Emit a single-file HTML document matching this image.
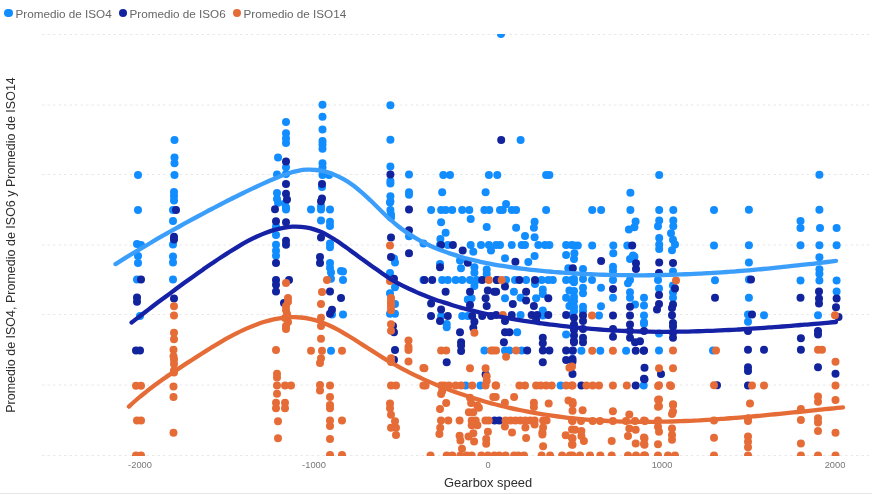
<!DOCTYPE html>
<html><head><meta charset="utf-8"><style>
html,body{margin:0;padding:0;background:#fff;width:872px;height:495px;overflow:hidden}
.wrap{position:relative;width:872px;height:495px}
.leg{position:absolute;top:5.8px;font:11.7px "Liberation Sans",sans-serif;color:#666;white-space:nowrap;line-height:16px}
.ld{position:absolute;width:8.5px;height:8.5px;border-radius:50%;top:8.7px}
.tick{position:absolute;top:459px;font:9.3px "Liberation Sans",sans-serif;color:#777;width:60px;text-align:center;line-height:12px}
.xt{position:absolute;left:444px;top:474.6px;font:12.9px "Liberation Sans",sans-serif;color:#2e2e2e;white-space:nowrap;line-height:16px}
.yt{position:absolute;left:5px;top:245px;font:12.5px "Liberation Sans",sans-serif;color:#2e2e2e;white-space:nowrap;line-height:12px;transform-origin:0 0;transform:rotate(-90deg) translate(-50%,0)}
.bot{position:absolute;left:0;top:493px;width:872px;height:1px;background:#e6e6e6}
svg{position:absolute;left:0;top:0}
</style></head><body><div class="wrap">
<svg width="872" height="495" viewBox="0 0 872 495"><defs><clipPath id="clip"><rect x="30" y="34" width="842" height="422"/></clipPath></defs>
<line x1="42" y1="34.5" x2="872" y2="34.5" stroke="#e8e8e8" stroke-width="1" stroke-dasharray="2.5 3"/>
<line x1="42" y1="105" x2="872" y2="105" stroke="#e8e8e8" stroke-width="1" stroke-dasharray="2.5 3"/>
<line x1="42" y1="174.5" x2="872" y2="174.5" stroke="#e8e8e8" stroke-width="1" stroke-dasharray="2.5 3"/>
<line x1="42" y1="245" x2="872" y2="245" stroke="#e8e8e8" stroke-width="1" stroke-dasharray="2.5 3"/>
<line x1="42" y1="314.5" x2="872" y2="314.5" stroke="#e8e8e8" stroke-width="1" stroke-dasharray="2.5 3"/>
<line x1="42" y1="385" x2="872" y2="385" stroke="#e8e8e8" stroke-width="1" stroke-dasharray="2.5 3"/>
<line x1="42" y1="455.5" x2="872" y2="455.5" stroke="#e8e8e8" stroke-width="1" stroke-dasharray="2.5 3"/>
<g clip-path="url(#clip)">
<circle cx="501.0" cy="34.0" r="4.0" fill="#118DFF"/>
<circle cx="138.0" cy="175.0" r="4.0" fill="#118DFF"/>
<circle cx="138.0" cy="210.0" r="4.0" fill="#118DFF"/>
<circle cx="137.0" cy="244.0" r="4.0" fill="#118DFF"/>
<circle cx="141.0" cy="245.0" r="4.0" fill="#118DFF"/>
<circle cx="138.0" cy="256.0" r="4.0" fill="#118DFF"/>
<circle cx="138.0" cy="263.0" r="4.0" fill="#118DFF"/>
<circle cx="137.0" cy="279.5" r="4.0" fill="#118DFF"/>
<circle cx="140.0" cy="316.0" r="4.0" fill="#118DFF"/>
<circle cx="174.5" cy="140.0" r="4.0" fill="#118DFF"/>
<circle cx="174.5" cy="157.5" r="4.0" fill="#118DFF"/>
<circle cx="174.5" cy="163.3" r="4.0" fill="#118DFF"/>
<circle cx="174.5" cy="175.0" r="4.0" fill="#118DFF"/>
<circle cx="174.0" cy="192.0" r="4.0" fill="#118DFF"/>
<circle cx="174.0" cy="196.0" r="4.0" fill="#118DFF"/>
<circle cx="174.0" cy="200.5" r="4.0" fill="#118DFF"/>
<circle cx="173.0" cy="210.0" r="4.0" fill="#118DFF"/>
<circle cx="173.0" cy="221.0" r="4.0" fill="#118DFF"/>
<circle cx="173.0" cy="244.6" r="4.0" fill="#118DFF"/>
<circle cx="173.0" cy="256.4" r="4.0" fill="#118DFF"/>
<circle cx="173.0" cy="262.5" r="4.0" fill="#118DFF"/>
<circle cx="173.0" cy="279.5" r="4.0" fill="#118DFF"/>
<circle cx="286.0" cy="122.0" r="4.0" fill="#118DFF"/>
<circle cx="286.0" cy="133.3" r="4.0" fill="#118DFF"/>
<circle cx="286.0" cy="138.6" r="4.0" fill="#118DFF"/>
<circle cx="286.0" cy="143.0" r="4.0" fill="#118DFF"/>
<circle cx="278.0" cy="157.5" r="4.0" fill="#118DFF"/>
<circle cx="286.0" cy="167.2" r="4.0" fill="#118DFF"/>
<circle cx="277.0" cy="174.4" r="4.0" fill="#118DFF"/>
<circle cx="286.0" cy="174.0" r="4.0" fill="#118DFF"/>
<circle cx="277.0" cy="193.0" r="4.0" fill="#118DFF"/>
<circle cx="277.0" cy="199.0" r="4.0" fill="#118DFF"/>
<circle cx="278.0" cy="202.7" r="4.0" fill="#118DFF"/>
<circle cx="286.0" cy="207.6" r="4.0" fill="#118DFF"/>
<circle cx="286.0" cy="209.5" r="4.0" fill="#118DFF"/>
<circle cx="285.0" cy="203.6" r="4.0" fill="#118DFF"/>
<circle cx="276.0" cy="226.6" r="4.0" fill="#118DFF"/>
<circle cx="276.0" cy="235.1" r="4.0" fill="#118DFF"/>
<circle cx="276.0" cy="244.8" r="4.0" fill="#118DFF"/>
<circle cx="276.0" cy="250.8" r="4.0" fill="#118DFF"/>
<circle cx="276.0" cy="255.7" r="4.0" fill="#118DFF"/>
<circle cx="322.5" cy="104.7" r="4.0" fill="#118DFF"/>
<circle cx="322.5" cy="116.8" r="4.0" fill="#118DFF"/>
<circle cx="322.5" cy="129.6" r="4.0" fill="#118DFF"/>
<circle cx="322.5" cy="141.0" r="4.0" fill="#118DFF"/>
<circle cx="322.5" cy="144.6" r="4.0" fill="#118DFF"/>
<circle cx="322.5" cy="148.8" r="4.0" fill="#118DFF"/>
<circle cx="322.5" cy="163.3" r="4.0" fill="#118DFF"/>
<circle cx="322.5" cy="167.6" r="4.0" fill="#118DFF"/>
<circle cx="322.5" cy="175.0" r="4.0" fill="#118DFF"/>
<circle cx="329.0" cy="175.0" r="4.0" fill="#118DFF"/>
<circle cx="322.0" cy="187.0" r="4.0" fill="#118DFF"/>
<circle cx="311.0" cy="209.5" r="4.0" fill="#118DFF"/>
<circle cx="321.0" cy="206.2" r="4.0" fill="#118DFF"/>
<circle cx="321.0" cy="209.5" r="4.0" fill="#118DFF"/>
<circle cx="330.0" cy="209.5" r="4.0" fill="#118DFF"/>
<circle cx="321.0" cy="220.6" r="4.0" fill="#118DFF"/>
<circle cx="330.0" cy="221.8" r="4.0" fill="#118DFF"/>
<circle cx="330.0" cy="226.0" r="4.0" fill="#118DFF"/>
<circle cx="330.0" cy="243.6" r="4.0" fill="#118DFF"/>
<circle cx="330.0" cy="247.2" r="4.0" fill="#118DFF"/>
<circle cx="330.0" cy="263.0" r="4.0" fill="#118DFF"/>
<circle cx="330.0" cy="267.8" r="4.0" fill="#118DFF"/>
<circle cx="331.0" cy="272.6" r="4.0" fill="#118DFF"/>
<circle cx="331.0" cy="278.7" r="4.0" fill="#118DFF"/>
<circle cx="341.0" cy="271.0" r="4.0" fill="#118DFF"/>
<circle cx="332.0" cy="314.5" r="4.0" fill="#118DFF"/>
<circle cx="343.0" cy="314.5" r="4.0" fill="#118DFF"/>
<circle cx="331.0" cy="350.7" r="4.0" fill="#118DFF"/>
<circle cx="390.4" cy="105.2" r="4.0" fill="#118DFF"/>
<circle cx="390.4" cy="139.8" r="4.0" fill="#118DFF"/>
<circle cx="390.4" cy="166.4" r="4.0" fill="#118DFF"/>
<circle cx="390.4" cy="181.0" r="4.0" fill="#118DFF"/>
<circle cx="390.4" cy="183.4" r="4.0" fill="#118DFF"/>
<circle cx="390.4" cy="196.2" r="4.0" fill="#118DFF"/>
<circle cx="390.4" cy="201.5" r="4.0" fill="#118DFF"/>
<circle cx="390.4" cy="210.0" r="4.0" fill="#118DFF"/>
<circle cx="409.0" cy="174.4" r="4.0" fill="#118DFF"/>
<circle cx="409.0" cy="192.3" r="4.0" fill="#118DFF"/>
<circle cx="409.0" cy="194.8" r="4.0" fill="#118DFF"/>
<circle cx="390.0" cy="202.4" r="4.0" fill="#118DFF"/>
<circle cx="391.0" cy="214.5" r="4.0" fill="#118DFF"/>
<circle cx="391.0" cy="217.4" r="4.0" fill="#118DFF"/>
<circle cx="394.0" cy="258.6" r="4.0" fill="#118DFF"/>
<circle cx="395.0" cy="262.5" r="4.0" fill="#118DFF"/>
<circle cx="390.0" cy="273.1" r="4.0" fill="#118DFF"/>
<circle cx="395.0" cy="287.2" r="4.0" fill="#118DFF"/>
<circle cx="390.0" cy="293.2" r="4.0" fill="#118DFF"/>
<circle cx="395.0" cy="304.1" r="4.0" fill="#118DFF"/>
<circle cx="395.0" cy="313.8" r="4.0" fill="#118DFF"/>
<circle cx="390.0" cy="313.8" r="4.0" fill="#118DFF"/>
<circle cx="409.0" cy="236.3" r="4.0" fill="#118DFF"/>
<circle cx="423.5" cy="243.6" r="4.0" fill="#118DFF"/>
<circle cx="423.5" cy="280.0" r="4.0" fill="#118DFF"/>
<circle cx="343.0" cy="271.4" r="4.0" fill="#118DFF"/>
<circle cx="343.0" cy="280.0" r="4.0" fill="#118DFF"/>
<circle cx="443.3" cy="175.1" r="4.0" fill="#118DFF"/>
<circle cx="450.0" cy="175.1" r="4.0" fill="#118DFF"/>
<circle cx="488.9" cy="175.1" r="4.0" fill="#118DFF"/>
<circle cx="497.3" cy="175.1" r="4.0" fill="#118DFF"/>
<circle cx="442.2" cy="192.2" r="4.0" fill="#118DFF"/>
<circle cx="485.6" cy="192.2" r="4.0" fill="#118DFF"/>
<circle cx="431.1" cy="210.0" r="4.0" fill="#118DFF"/>
<circle cx="441.1" cy="210.0" r="4.0" fill="#118DFF"/>
<circle cx="445.6" cy="210.0" r="4.0" fill="#118DFF"/>
<circle cx="452.2" cy="210.0" r="4.0" fill="#118DFF"/>
<circle cx="462.2" cy="210.0" r="4.0" fill="#118DFF"/>
<circle cx="469.3" cy="210.0" r="4.0" fill="#118DFF"/>
<circle cx="484.4" cy="210.0" r="4.0" fill="#118DFF"/>
<circle cx="489.3" cy="210.0" r="4.0" fill="#118DFF"/>
<circle cx="500.0" cy="210.0" r="4.0" fill="#118DFF"/>
<circle cx="441.1" cy="222.2" r="4.0" fill="#118DFF"/>
<circle cx="470.7" cy="218.9" r="4.0" fill="#118DFF"/>
<circle cx="486.7" cy="227.1" r="4.0" fill="#118DFF"/>
<circle cx="445.6" cy="232.8" r="4.0" fill="#118DFF"/>
<circle cx="440.4" cy="239.0" r="4.0" fill="#118DFF"/>
<circle cx="440.0" cy="245.0" r="4.0" fill="#118DFF"/>
<circle cx="447.8" cy="245.0" r="4.0" fill="#118DFF"/>
<circle cx="470.7" cy="245.0" r="4.0" fill="#118DFF"/>
<circle cx="481.0" cy="245.0" r="4.0" fill="#118DFF"/>
<circle cx="488.9" cy="245.0" r="4.0" fill="#118DFF"/>
<circle cx="500.0" cy="245.0" r="4.0" fill="#118DFF"/>
<circle cx="473.3" cy="251.7" r="4.0" fill="#118DFF"/>
<circle cx="491.0" cy="250.6" r="4.0" fill="#118DFF"/>
<circle cx="460.0" cy="260.6" r="4.0" fill="#118DFF"/>
<circle cx="440.0" cy="263.9" r="4.0" fill="#118DFF"/>
<circle cx="461.0" cy="268.3" r="4.0" fill="#118DFF"/>
<circle cx="474.4" cy="267.2" r="4.0" fill="#118DFF"/>
<circle cx="474.4" cy="272.8" r="4.0" fill="#118DFF"/>
<circle cx="486.7" cy="269.4" r="4.0" fill="#118DFF"/>
<circle cx="486.7" cy="273.9" r="4.0" fill="#118DFF"/>
<circle cx="442.2" cy="280.1" r="4.0" fill="#118DFF"/>
<circle cx="447.8" cy="280.1" r="4.0" fill="#118DFF"/>
<circle cx="455.6" cy="280.1" r="4.0" fill="#118DFF"/>
<circle cx="462.2" cy="280.1" r="4.0" fill="#118DFF"/>
<circle cx="470.0" cy="280.1" r="4.0" fill="#118DFF"/>
<circle cx="476.7" cy="280.1" r="4.0" fill="#118DFF"/>
<circle cx="474.4" cy="286.1" r="4.0" fill="#118DFF"/>
<circle cx="471.6" cy="298.3" r="4.0" fill="#118DFF"/>
<circle cx="467.8" cy="299.4" r="4.0" fill="#118DFF"/>
<circle cx="441.1" cy="316.1" r="4.0" fill="#118DFF"/>
<circle cx="462.2" cy="316.1" r="4.0" fill="#118DFF"/>
<circle cx="467.8" cy="316.1" r="4.0" fill="#118DFF"/>
<circle cx="446.7" cy="323.9" r="4.0" fill="#118DFF"/>
<circle cx="446.7" cy="327.3" r="4.0" fill="#118DFF"/>
<circle cx="484.4" cy="350.4" r="4.0" fill="#118DFF"/>
<circle cx="465.6" cy="385.6" r="4.0" fill="#118DFF"/>
<circle cx="480.4" cy="385.6" r="4.0" fill="#118DFF"/>
<circle cx="520.6" cy="140.0" r="4.0" fill="#118DFF"/>
<circle cx="546.1" cy="175.1" r="4.0" fill="#118DFF"/>
<circle cx="549.4" cy="175.1" r="4.0" fill="#118DFF"/>
<circle cx="506.1" cy="204.0" r="4.0" fill="#118DFF"/>
<circle cx="502.8" cy="210.0" r="4.0" fill="#118DFF"/>
<circle cx="511.7" cy="210.0" r="4.0" fill="#118DFF"/>
<circle cx="516.1" cy="210.0" r="4.0" fill="#118DFF"/>
<circle cx="546.1" cy="210.0" r="4.0" fill="#118DFF"/>
<circle cx="534.6" cy="221.8" r="4.0" fill="#118DFF"/>
<circle cx="533.9" cy="227.8" r="4.0" fill="#118DFF"/>
<circle cx="516.1" cy="227.8" r="4.0" fill="#118DFF"/>
<circle cx="525.0" cy="236.1" r="4.0" fill="#118DFF"/>
<circle cx="534.6" cy="237.2" r="4.0" fill="#118DFF"/>
<circle cx="496.1" cy="245.0" r="4.0" fill="#118DFF"/>
<circle cx="511.7" cy="245.0" r="4.0" fill="#118DFF"/>
<circle cx="521.7" cy="245.0" r="4.0" fill="#118DFF"/>
<circle cx="525.0" cy="245.0" r="4.0" fill="#118DFF"/>
<circle cx="538.3" cy="245.0" r="4.0" fill="#118DFF"/>
<circle cx="545.0" cy="245.0" r="4.0" fill="#118DFF"/>
<circle cx="549.4" cy="245.0" r="4.0" fill="#118DFF"/>
<circle cx="566.1" cy="245.0" r="4.0" fill="#118DFF"/>
<circle cx="571.7" cy="245.0" r="4.0" fill="#118DFF"/>
<circle cx="505.0" cy="258.3" r="4.0" fill="#118DFF"/>
<circle cx="528.3" cy="262.1" r="4.0" fill="#118DFF"/>
<circle cx="534.6" cy="256.1" r="4.0" fill="#118DFF"/>
<circle cx="566.1" cy="255.0" r="4.0" fill="#118DFF"/>
<circle cx="568.3" cy="268.3" r="4.0" fill="#118DFF"/>
<circle cx="506.1" cy="279.9" r="4.0" fill="#118DFF"/>
<circle cx="515.0" cy="279.9" r="4.0" fill="#118DFF"/>
<circle cx="526.1" cy="279.9" r="4.0" fill="#118DFF"/>
<circle cx="541.7" cy="279.9" r="4.0" fill="#118DFF"/>
<circle cx="548.3" cy="279.9" r="4.0" fill="#118DFF"/>
<circle cx="552.8" cy="279.9" r="4.0" fill="#118DFF"/>
<circle cx="566.1" cy="279.9" r="4.0" fill="#118DFF"/>
<circle cx="571.7" cy="279.9" r="4.0" fill="#118DFF"/>
<circle cx="535.0" cy="283.9" r="4.0" fill="#118DFF"/>
<circle cx="513.9" cy="291.7" r="4.0" fill="#118DFF"/>
<circle cx="542.8" cy="289.4" r="4.0" fill="#118DFF"/>
<circle cx="542.8" cy="293.9" r="4.0" fill="#118DFF"/>
<circle cx="569.4" cy="290.6" r="4.0" fill="#118DFF"/>
<circle cx="505.0" cy="298.3" r="4.0" fill="#118DFF"/>
<circle cx="520.6" cy="297.7" r="4.0" fill="#118DFF"/>
<circle cx="536.1" cy="298.3" r="4.0" fill="#118DFF"/>
<circle cx="566.1" cy="297.7" r="4.0" fill="#118DFF"/>
<circle cx="571.7" cy="301.7" r="4.0" fill="#118DFF"/>
<circle cx="569.4" cy="306.1" r="4.0" fill="#118DFF"/>
<circle cx="542.8" cy="310.6" r="4.0" fill="#118DFF"/>
<circle cx="520.6" cy="315.0" r="4.0" fill="#118DFF"/>
<circle cx="542.8" cy="315.0" r="4.0" fill="#118DFF"/>
<circle cx="571.7" cy="315.0" r="4.0" fill="#118DFF"/>
<circle cx="542.8" cy="315.6" r="4.0" fill="#118DFF"/>
<circle cx="517.2" cy="332.2" r="4.0" fill="#118DFF"/>
<circle cx="566.1" cy="334.4" r="4.0" fill="#118DFF"/>
<circle cx="505.0" cy="350.4" r="4.0" fill="#118DFF"/>
<circle cx="509.4" cy="350.4" r="4.0" fill="#118DFF"/>
<circle cx="521.7" cy="350.4" r="4.0" fill="#118DFF"/>
<circle cx="560.6" cy="385.6" r="4.0" fill="#118DFF"/>
<circle cx="630.4" cy="192.7" r="4.0" fill="#118DFF"/>
<circle cx="592.2" cy="210.0" r="4.0" fill="#118DFF"/>
<circle cx="601.1" cy="210.0" r="4.0" fill="#118DFF"/>
<circle cx="630.4" cy="210.0" r="4.0" fill="#118DFF"/>
<circle cx="635.6" cy="221.6" r="4.0" fill="#118DFF"/>
<circle cx="634.4" cy="227.3" r="4.0" fill="#118DFF"/>
<circle cx="628.9" cy="229.6" r="4.0" fill="#118DFF"/>
<circle cx="574.4" cy="245.6" r="4.0" fill="#118DFF"/>
<circle cx="577.8" cy="245.6" r="4.0" fill="#118DFF"/>
<circle cx="592.2" cy="245.6" r="4.0" fill="#118DFF"/>
<circle cx="613.3" cy="245.6" r="4.0" fill="#118DFF"/>
<circle cx="627.3" cy="245.6" r="4.0" fill="#118DFF"/>
<circle cx="574.4" cy="253.3" r="4.0" fill="#118DFF"/>
<circle cx="613.3" cy="253.3" r="4.0" fill="#118DFF"/>
<circle cx="634.4" cy="256.7" r="4.0" fill="#118DFF"/>
<circle cx="630.0" cy="258.9" r="4.0" fill="#118DFF"/>
<circle cx="574.0" cy="258.9" r="4.0" fill="#118DFF"/>
<circle cx="574.0" cy="278.9" r="4.0" fill="#118DFF"/>
<circle cx="574.0" cy="282.2" r="4.0" fill="#118DFF"/>
<circle cx="574.0" cy="291.1" r="4.0" fill="#118DFF"/>
<circle cx="574.0" cy="296.7" r="4.0" fill="#118DFF"/>
<circle cx="574.0" cy="301.1" r="4.0" fill="#118DFF"/>
<circle cx="574.0" cy="306.7" r="4.0" fill="#118DFF"/>
<circle cx="574.0" cy="311.1" r="4.0" fill="#118DFF"/>
<circle cx="583.0" cy="268.9" r="4.0" fill="#118DFF"/>
<circle cx="583.0" cy="278.9" r="4.0" fill="#118DFF"/>
<circle cx="583.0" cy="287.8" r="4.0" fill="#118DFF"/>
<circle cx="583.0" cy="293.3" r="4.0" fill="#118DFF"/>
<circle cx="583.0" cy="306.7" r="4.0" fill="#118DFF"/>
<circle cx="583.0" cy="311.1" r="4.0" fill="#118DFF"/>
<circle cx="592.0" cy="280.0" r="4.0" fill="#118DFF"/>
<circle cx="599.0" cy="315.6" r="4.0" fill="#118DFF"/>
<circle cx="601.0" cy="287.8" r="4.0" fill="#118DFF"/>
<circle cx="601.0" cy="306.2" r="4.0" fill="#118DFF"/>
<circle cx="613.0" cy="266.7" r="4.0" fill="#118DFF"/>
<circle cx="613.0" cy="271.1" r="4.0" fill="#118DFF"/>
<circle cx="613.0" cy="280.0" r="4.0" fill="#118DFF"/>
<circle cx="613.0" cy="297.8" r="4.0" fill="#118DFF"/>
<circle cx="633.0" cy="255.6" r="4.0" fill="#118DFF"/>
<circle cx="630.0" cy="280.0" r="4.0" fill="#118DFF"/>
<circle cx="628.0" cy="283.3" r="4.0" fill="#118DFF"/>
<circle cx="630.0" cy="292.2" r="4.0" fill="#118DFF"/>
<circle cx="630.0" cy="297.8" r="4.0" fill="#118DFF"/>
<circle cx="635.0" cy="304.4" r="4.0" fill="#118DFF"/>
<circle cx="644.0" cy="297.8" r="4.0" fill="#118DFF"/>
<circle cx="644.0" cy="305.6" r="4.0" fill="#118DFF"/>
<circle cx="644.0" cy="315.6" r="4.0" fill="#118DFF"/>
<circle cx="644.0" cy="322.2" r="4.0" fill="#118DFF"/>
<circle cx="572.5" cy="350.7" r="4.0" fill="#118DFF"/>
<circle cx="581.4" cy="350.7" r="4.0" fill="#118DFF"/>
<circle cx="600.3" cy="350.7" r="4.0" fill="#118DFF"/>
<circle cx="626.1" cy="350.7" r="4.0" fill="#118DFF"/>
<circle cx="643.7" cy="385.5" r="4.0" fill="#118DFF"/>
<circle cx="659.2" cy="174.9" r="4.0" fill="#118DFF"/>
<circle cx="659.2" cy="209.9" r="4.0" fill="#118DFF"/>
<circle cx="659.2" cy="220.6" r="4.0" fill="#118DFF"/>
<circle cx="658.0" cy="226.3" r="4.0" fill="#118DFF"/>
<circle cx="659.2" cy="238.1" r="4.0" fill="#118DFF"/>
<circle cx="659.2" cy="244.6" r="4.0" fill="#118DFF"/>
<circle cx="659.2" cy="248.9" r="4.0" fill="#118DFF"/>
<circle cx="658.0" cy="279.9" r="4.0" fill="#118DFF"/>
<circle cx="673.3" cy="209.9" r="4.0" fill="#118DFF"/>
<circle cx="673.3" cy="220.6" r="4.0" fill="#118DFF"/>
<circle cx="673.3" cy="226.3" r="4.0" fill="#118DFF"/>
<circle cx="671.0" cy="233.3" r="4.0" fill="#118DFF"/>
<circle cx="673.0" cy="239.8" r="4.0" fill="#118DFF"/>
<circle cx="675.0" cy="244.6" r="4.0" fill="#118DFF"/>
<circle cx="672.0" cy="250.3" r="4.0" fill="#118DFF"/>
<circle cx="673.0" cy="271.5" r="4.0" fill="#118DFF"/>
<circle cx="673.0" cy="285.6" r="4.0" fill="#118DFF"/>
<circle cx="714.0" cy="209.9" r="4.0" fill="#118DFF"/>
<circle cx="714.0" cy="245.5" r="4.0" fill="#118DFF"/>
<circle cx="715.0" cy="280.3" r="4.0" fill="#118DFF"/>
<circle cx="644.0" cy="323.7" r="4.0" fill="#118DFF"/>
<circle cx="659.0" cy="288.4" r="4.0" fill="#118DFF"/>
<circle cx="659.0" cy="333.6" r="4.0" fill="#118DFF"/>
<circle cx="659.0" cy="350.5" r="4.0" fill="#118DFF"/>
<circle cx="673.0" cy="292.6" r="4.0" fill="#118DFF"/>
<circle cx="673.0" cy="297.7" r="4.0" fill="#118DFF"/>
<circle cx="713.0" cy="350.5" r="4.0" fill="#118DFF"/>
<circle cx="748.9" cy="209.8" r="4.0" fill="#118DFF"/>
<circle cx="748.9" cy="245.2" r="4.0" fill="#118DFF"/>
<circle cx="748.9" cy="262.4" r="4.0" fill="#118DFF"/>
<circle cx="748.9" cy="279.6" r="4.0" fill="#118DFF"/>
<circle cx="748.9" cy="297.8" r="4.0" fill="#118DFF"/>
<circle cx="800.5" cy="221.1" r="4.0" fill="#118DFF"/>
<circle cx="800.5" cy="228.0" r="4.0" fill="#118DFF"/>
<circle cx="800.5" cy="245.2" r="4.0" fill="#118DFF"/>
<circle cx="800.5" cy="280.6" r="4.0" fill="#118DFF"/>
<circle cx="819.4" cy="174.7" r="4.0" fill="#118DFF"/>
<circle cx="819.4" cy="209.8" r="4.0" fill="#118DFF"/>
<circle cx="820.0" cy="228.0" r="4.0" fill="#118DFF"/>
<circle cx="819.4" cy="245.2" r="4.0" fill="#118DFF"/>
<circle cx="819.4" cy="257.2" r="4.0" fill="#118DFF"/>
<circle cx="819.4" cy="269.3" r="4.0" fill="#118DFF"/>
<circle cx="819.4" cy="273.7" r="4.0" fill="#118DFF"/>
<circle cx="819.4" cy="280.6" r="4.0" fill="#118DFF"/>
<circle cx="836.6" cy="228.0" r="4.0" fill="#118DFF"/>
<circle cx="836.6" cy="245.2" r="4.0" fill="#118DFF"/>
<circle cx="836.6" cy="280.6" r="4.0" fill="#118DFF"/>
<circle cx="836.6" cy="291.6" r="4.0" fill="#118DFF"/>
<circle cx="748.0" cy="314.5" r="4.0" fill="#118DFF"/>
<circle cx="748.0" cy="321.8" r="4.0" fill="#118DFF"/>
<circle cx="764.0" cy="315.3" r="4.0" fill="#118DFF"/>
<circle cx="818.0" cy="315.3" r="4.0" fill="#118DFF"/>
<circle cx="141.0" cy="279.5" r="4.0" fill="#12239E"/>
<circle cx="137.0" cy="297.6" r="4.0" fill="#12239E"/>
<circle cx="137.0" cy="301.8" r="4.0" fill="#12239E"/>
<circle cx="136.0" cy="350.5" r="4.0" fill="#12239E"/>
<circle cx="140.0" cy="350.5" r="4.0" fill="#12239E"/>
<circle cx="176.0" cy="210.0" r="4.0" fill="#12239E"/>
<circle cx="174.0" cy="236.7" r="4.0" fill="#12239E"/>
<circle cx="174.0" cy="239.4" r="4.0" fill="#12239E"/>
<circle cx="174.0" cy="298.4" r="4.0" fill="#12239E"/>
<circle cx="286.0" cy="161.6" r="4.0" fill="#12239E"/>
<circle cx="286.0" cy="184.1" r="4.0" fill="#12239E"/>
<circle cx="286.0" cy="193.8" r="4.0" fill="#12239E"/>
<circle cx="287.0" cy="199.6" r="4.0" fill="#12239E"/>
<circle cx="275.0" cy="209.3" r="4.0" fill="#12239E"/>
<circle cx="276.0" cy="221.3" r="4.0" fill="#12239E"/>
<circle cx="286.0" cy="222.3" r="4.0" fill="#12239E"/>
<circle cx="286.0" cy="240.7" r="4.0" fill="#12239E"/>
<circle cx="286.0" cy="244.8" r="4.0" fill="#12239E"/>
<circle cx="276.0" cy="263.0" r="4.0" fill="#12239E"/>
<circle cx="276.0" cy="279.9" r="4.0" fill="#12239E"/>
<circle cx="276.0" cy="284.7" r="4.0" fill="#12239E"/>
<circle cx="276.0" cy="291.5" r="4.0" fill="#12239E"/>
<circle cx="289.0" cy="279.9" r="4.0" fill="#12239E"/>
<circle cx="284.0" cy="302.9" r="4.0" fill="#12239E"/>
<circle cx="322.0" cy="184.1" r="4.0" fill="#12239E"/>
<circle cx="322.0" cy="198.6" r="4.0" fill="#12239E"/>
<circle cx="321.0" cy="201.2" r="4.0" fill="#12239E"/>
<circle cx="321.0" cy="237.5" r="4.0" fill="#12239E"/>
<circle cx="320.0" cy="256.9" r="4.0" fill="#12239E"/>
<circle cx="320.0" cy="263.0" r="4.0" fill="#12239E"/>
<circle cx="330.0" cy="291.5" r="4.0" fill="#12239E"/>
<circle cx="341.0" cy="298.0" r="4.0" fill="#12239E"/>
<circle cx="332.0" cy="309.7" r="4.0" fill="#12239E"/>
<circle cx="330.0" cy="313.8" r="4.0" fill="#12239E"/>
<circle cx="390.4" cy="174.4" r="4.0" fill="#12239E"/>
<circle cx="409.0" cy="209.5" r="4.0" fill="#12239E"/>
<circle cx="391.0" cy="237.5" r="4.0" fill="#12239E"/>
<circle cx="391.0" cy="256.9" r="4.0" fill="#12239E"/>
<circle cx="394.0" cy="278.7" r="4.0" fill="#12239E"/>
<circle cx="409.0" cy="230.3" r="4.0" fill="#12239E"/>
<circle cx="409.0" cy="253.3" r="4.0" fill="#12239E"/>
<circle cx="393.0" cy="325.9" r="4.0" fill="#12239E"/>
<circle cx="394.0" cy="332.3" r="4.0" fill="#12239E"/>
<circle cx="395.0" cy="350.0" r="4.0" fill="#12239E"/>
<circle cx="394.0" cy="359.8" r="4.0" fill="#12239E"/>
<circle cx="501.2" cy="140.0" r="4.0" fill="#12239E"/>
<circle cx="441.0" cy="245.0" r="4.0" fill="#12239E"/>
<circle cx="452.9" cy="245.0" r="4.0" fill="#12239E"/>
<circle cx="462.7" cy="250.6" r="4.0" fill="#12239E"/>
<circle cx="440.0" cy="267.2" r="4.0" fill="#12239E"/>
<circle cx="467.8" cy="262.8" r="4.0" fill="#12239E"/>
<circle cx="424.4" cy="280.1" r="4.0" fill="#12239E"/>
<circle cx="432.2" cy="280.1" r="4.0" fill="#12239E"/>
<circle cx="482.2" cy="280.1" r="4.0" fill="#12239E"/>
<circle cx="496.7" cy="280.1" r="4.0" fill="#12239E"/>
<circle cx="445.6" cy="291.7" r="4.0" fill="#12239E"/>
<circle cx="470.0" cy="291.7" r="4.0" fill="#12239E"/>
<circle cx="487.8" cy="290.6" r="4.0" fill="#12239E"/>
<circle cx="494.4" cy="291.7" r="4.0" fill="#12239E"/>
<circle cx="485.6" cy="298.3" r="4.0" fill="#12239E"/>
<circle cx="431.1" cy="303.4" r="4.0" fill="#12239E"/>
<circle cx="470.0" cy="305.0" r="4.0" fill="#12239E"/>
<circle cx="486.7" cy="306.1" r="4.0" fill="#12239E"/>
<circle cx="441.1" cy="309.4" r="4.0" fill="#12239E"/>
<circle cx="431.0" cy="316.1" r="4.0" fill="#12239E"/>
<circle cx="447.8" cy="316.1" r="4.0" fill="#12239E"/>
<circle cx="472.2" cy="316.1" r="4.0" fill="#12239E"/>
<circle cx="482.2" cy="316.1" r="4.0" fill="#12239E"/>
<circle cx="491.0" cy="316.1" r="4.0" fill="#12239E"/>
<circle cx="474.4" cy="321.7" r="4.0" fill="#12239E"/>
<circle cx="440.0" cy="321.1" r="4.0" fill="#12239E"/>
<circle cx="473.3" cy="327.8" r="4.0" fill="#12239E"/>
<circle cx="460.0" cy="332.2" r="4.0" fill="#12239E"/>
<circle cx="461.1" cy="342.2" r="4.0" fill="#12239E"/>
<circle cx="461.1" cy="345.6" r="4.0" fill="#12239E"/>
<circle cx="461.1" cy="351.1" r="4.0" fill="#12239E"/>
<circle cx="446.7" cy="362.2" r="4.0" fill="#12239E"/>
<circle cx="485.6" cy="374.4" r="4.0" fill="#12239E"/>
<circle cx="494.6" cy="420.4" r="4.0" fill="#12239E"/>
<circle cx="499.2" cy="420.4" r="4.0" fill="#12239E"/>
<circle cx="515.4" cy="261.7" r="4.0" fill="#12239E"/>
<circle cx="572.8" cy="268.3" r="4.0" fill="#12239E"/>
<circle cx="497.2" cy="279.9" r="4.0" fill="#12239E"/>
<circle cx="519.4" cy="279.9" r="4.0" fill="#12239E"/>
<circle cx="535.0" cy="279.9" r="4.0" fill="#12239E"/>
<circle cx="505.0" cy="286.6" r="4.0" fill="#12239E"/>
<circle cx="496.1" cy="291.7" r="4.0" fill="#12239E"/>
<circle cx="526.1" cy="291.7" r="4.0" fill="#12239E"/>
<circle cx="526.1" cy="300.6" r="4.0" fill="#12239E"/>
<circle cx="548.3" cy="298.3" r="4.0" fill="#12239E"/>
<circle cx="512.8" cy="303.9" r="4.0" fill="#12239E"/>
<circle cx="533.9" cy="306.1" r="4.0" fill="#12239E"/>
<circle cx="496.1" cy="315.0" r="4.0" fill="#12239E"/>
<circle cx="511.7" cy="315.0" r="4.0" fill="#12239E"/>
<circle cx="531.7" cy="315.0" r="4.0" fill="#12239E"/>
<circle cx="537.2" cy="315.0" r="4.0" fill="#12239E"/>
<circle cx="548.3" cy="315.0" r="4.0" fill="#12239E"/>
<circle cx="566.1" cy="315.0" r="4.0" fill="#12239E"/>
<circle cx="505.0" cy="321.1" r="4.0" fill="#12239E"/>
<circle cx="536.1" cy="320.0" r="4.0" fill="#12239E"/>
<circle cx="505.0" cy="332.2" r="4.0" fill="#12239E"/>
<circle cx="509.4" cy="332.2" r="4.0" fill="#12239E"/>
<circle cx="542.8" cy="337.8" r="4.0" fill="#12239E"/>
<circle cx="542.8" cy="343.3" r="4.0" fill="#12239E"/>
<circle cx="503.9" cy="342.2" r="4.0" fill="#12239E"/>
<circle cx="573.9" cy="341.1" r="4.0" fill="#12239E"/>
<circle cx="527.2" cy="350.4" r="4.0" fill="#12239E"/>
<circle cx="542.8" cy="350.4" r="4.0" fill="#12239E"/>
<circle cx="549.4" cy="350.4" r="4.0" fill="#12239E"/>
<circle cx="566.1" cy="350.4" r="4.0" fill="#12239E"/>
<circle cx="572.8" cy="350.4" r="4.0" fill="#12239E"/>
<circle cx="542.8" cy="362.2" r="4.0" fill="#12239E"/>
<circle cx="566.1" cy="360.0" r="4.0" fill="#12239E"/>
<circle cx="632.2" cy="245.6" r="4.0" fill="#12239E"/>
<circle cx="601.1" cy="261.0" r="4.0" fill="#12239E"/>
<circle cx="574.0" cy="317.8" r="4.0" fill="#12239E"/>
<circle cx="574.0" cy="324.4" r="4.0" fill="#12239E"/>
<circle cx="574.0" cy="330.0" r="4.0" fill="#12239E"/>
<circle cx="574.0" cy="335.6" r="4.0" fill="#12239E"/>
<circle cx="574.0" cy="342.2" r="4.0" fill="#12239E"/>
<circle cx="583.0" cy="315.6" r="4.0" fill="#12239E"/>
<circle cx="583.0" cy="321.1" r="4.0" fill="#12239E"/>
<circle cx="583.0" cy="328.9" r="4.0" fill="#12239E"/>
<circle cx="583.0" cy="337.8" r="4.0" fill="#12239E"/>
<circle cx="583.0" cy="342.2" r="4.0" fill="#12239E"/>
<circle cx="613.0" cy="288.9" r="4.0" fill="#12239E"/>
<circle cx="613.0" cy="315.6" r="4.0" fill="#12239E"/>
<circle cx="613.0" cy="328.9" r="4.0" fill="#12239E"/>
<circle cx="613.0" cy="336.7" r="4.0" fill="#12239E"/>
<circle cx="636.0" cy="263.3" r="4.0" fill="#12239E"/>
<circle cx="636.0" cy="268.9" r="4.0" fill="#12239E"/>
<circle cx="630.0" cy="306.7" r="4.0" fill="#12239E"/>
<circle cx="630.0" cy="315.6" r="4.0" fill="#12239E"/>
<circle cx="630.0" cy="324.4" r="4.0" fill="#12239E"/>
<circle cx="630.0" cy="331.1" r="4.0" fill="#12239E"/>
<circle cx="630.0" cy="337.8" r="4.0" fill="#12239E"/>
<circle cx="635.0" cy="342.2" r="4.0" fill="#12239E"/>
<circle cx="644.0" cy="331.1" r="4.0" fill="#12239E"/>
<circle cx="640.0" cy="341.3" r="4.0" fill="#12239E"/>
<circle cx="635.7" cy="350.7" r="4.0" fill="#12239E"/>
<circle cx="643.7" cy="350.7" r="4.0" fill="#12239E"/>
<circle cx="572.5" cy="359.0" r="4.0" fill="#12239E"/>
<circle cx="572.5" cy="361.5" r="4.0" fill="#12239E"/>
<circle cx="572.5" cy="374.1" r="4.0" fill="#12239E"/>
<circle cx="644.5" cy="367.8" r="4.0" fill="#12239E"/>
<circle cx="644.5" cy="379.2" r="4.0" fill="#12239E"/>
<circle cx="581.4" cy="385.5" r="4.0" fill="#12239E"/>
<circle cx="635.7" cy="385.5" r="4.0" fill="#12239E"/>
<circle cx="659.2" cy="262.4" r="4.0" fill="#12239E"/>
<circle cx="659.0" cy="272.9" r="4.0" fill="#12239E"/>
<circle cx="673.0" cy="263.0" r="4.0" fill="#12239E"/>
<circle cx="644.0" cy="350.5" r="4.0" fill="#12239E"/>
<circle cx="644.0" cy="378.8" r="4.0" fill="#12239E"/>
<circle cx="659.0" cy="294.9" r="4.0" fill="#12239E"/>
<circle cx="659.0" cy="303.9" r="4.0" fill="#12239E"/>
<circle cx="657.0" cy="309.5" r="4.0" fill="#12239E"/>
<circle cx="661.0" cy="374.0" r="4.0" fill="#12239E"/>
<circle cx="675.0" cy="288.4" r="4.0" fill="#12239E"/>
<circle cx="673.0" cy="304.5" r="4.0" fill="#12239E"/>
<circle cx="672.0" cy="308.1" r="4.0" fill="#12239E"/>
<circle cx="672.0" cy="315.2" r="4.0" fill="#12239E"/>
<circle cx="673.0" cy="323.1" r="4.0" fill="#12239E"/>
<circle cx="673.0" cy="326.5" r="4.0" fill="#12239E"/>
<circle cx="673.0" cy="332.7" r="4.0" fill="#12239E"/>
<circle cx="673.0" cy="337.8" r="4.0" fill="#12239E"/>
<circle cx="715.0" cy="297.7" r="4.0" fill="#12239E"/>
<circle cx="717.0" cy="385.3" r="4.0" fill="#12239E"/>
<circle cx="751.0" cy="279.6" r="4.0" fill="#12239E"/>
<circle cx="800.5" cy="297.8" r="4.0" fill="#12239E"/>
<circle cx="819.0" cy="291.6" r="4.0" fill="#12239E"/>
<circle cx="819.0" cy="298.5" r="4.0" fill="#12239E"/>
<circle cx="819.0" cy="303.6" r="4.0" fill="#12239E"/>
<circle cx="836.6" cy="298.5" r="4.0" fill="#12239E"/>
<circle cx="836.0" cy="307.3" r="4.0" fill="#12239E"/>
<circle cx="752.0" cy="314.5" r="4.0" fill="#12239E"/>
<circle cx="748.0" cy="330.9" r="4.0" fill="#12239E"/>
<circle cx="748.0" cy="349.8" r="4.0" fill="#12239E"/>
<circle cx="748.0" cy="367.3" r="4.0" fill="#12239E"/>
<circle cx="748.0" cy="370.9" r="4.0" fill="#12239E"/>
<circle cx="748.0" cy="385.5" r="4.0" fill="#12239E"/>
<circle cx="764.0" cy="349.8" r="4.0" fill="#12239E"/>
<circle cx="800.9" cy="338.2" r="4.0" fill="#12239E"/>
<circle cx="800.9" cy="349.8" r="4.0" fill="#12239E"/>
<circle cx="818.0" cy="330.9" r="4.0" fill="#12239E"/>
<circle cx="818.0" cy="334.5" r="4.0" fill="#12239E"/>
<circle cx="818.0" cy="367.3" r="4.0" fill="#12239E"/>
<circle cx="838.5" cy="317.0" r="4.0" fill="#12239E"/>
<circle cx="835.5" cy="373.8" r="4.0" fill="#12239E"/>
<circle cx="136.0" cy="385.7" r="4.0" fill="#E66C37"/>
<circle cx="141.0" cy="385.7" r="4.0" fill="#E66C37"/>
<circle cx="137.0" cy="420.5" r="4.0" fill="#E66C37"/>
<circle cx="136.0" cy="455.5" r="4.0" fill="#E66C37"/>
<circle cx="141.0" cy="455.5" r="4.0" fill="#E66C37"/>
<circle cx="174.0" cy="306.3" r="4.0" fill="#E66C37"/>
<circle cx="174.0" cy="315.5" r="4.0" fill="#E66C37"/>
<circle cx="174.0" cy="332.7" r="4.0" fill="#E66C37"/>
<circle cx="174.0" cy="339.2" r="4.0" fill="#E66C37"/>
<circle cx="173.5" cy="349.7" r="4.0" fill="#E66C37"/>
<circle cx="173.5" cy="356.2" r="4.0" fill="#E66C37"/>
<circle cx="174.0" cy="359.6" r="4.0" fill="#E66C37"/>
<circle cx="174.0" cy="363.9" r="4.0" fill="#E66C37"/>
<circle cx="174.0" cy="370.4" r="4.0" fill="#E66C37"/>
<circle cx="174.0" cy="372.4" r="4.0" fill="#E66C37"/>
<circle cx="173.5" cy="386.5" r="4.0" fill="#E66C37"/>
<circle cx="173.5" cy="397.0" r="4.0" fill="#E66C37"/>
<circle cx="173.5" cy="432.7" r="4.0" fill="#E66C37"/>
<circle cx="286.0" cy="283.0" r="4.0" fill="#E66C37"/>
<circle cx="288.0" cy="298.0" r="4.0" fill="#E66C37"/>
<circle cx="288.0" cy="301.7" r="4.0" fill="#E66C37"/>
<circle cx="286.0" cy="306.0" r="4.0" fill="#E66C37"/>
<circle cx="286.0" cy="310.0" r="4.0" fill="#E66C37"/>
<circle cx="287.0" cy="314.0" r="4.0" fill="#E66C37"/>
<circle cx="285.0" cy="318.0" r="4.0" fill="#E66C37"/>
<circle cx="288.0" cy="322.0" r="4.0" fill="#E66C37"/>
<circle cx="286.0" cy="326.0" r="4.0" fill="#E66C37"/>
<circle cx="286.0" cy="329.0" r="4.0" fill="#E66C37"/>
<circle cx="276.0" cy="350.0" r="4.0" fill="#E66C37"/>
<circle cx="277.0" cy="373.7" r="4.0" fill="#E66C37"/>
<circle cx="277.0" cy="377.6" r="4.0" fill="#E66C37"/>
<circle cx="277.0" cy="385.6" r="4.0" fill="#E66C37"/>
<circle cx="285.0" cy="385.6" r="4.0" fill="#E66C37"/>
<circle cx="291.0" cy="385.6" r="4.0" fill="#E66C37"/>
<circle cx="277.0" cy="393.7" r="4.0" fill="#E66C37"/>
<circle cx="276.0" cy="402.8" r="4.0" fill="#E66C37"/>
<circle cx="276.0" cy="408.3" r="4.0" fill="#E66C37"/>
<circle cx="285.0" cy="402.8" r="4.0" fill="#E66C37"/>
<circle cx="285.0" cy="408.3" r="4.0" fill="#E66C37"/>
<circle cx="278.0" cy="421.2" r="4.0" fill="#E66C37"/>
<circle cx="278.0" cy="438.3" r="4.0" fill="#E66C37"/>
<circle cx="327.0" cy="279.9" r="4.0" fill="#E66C37"/>
<circle cx="322.0" cy="292.0" r="4.0" fill="#E66C37"/>
<circle cx="321.0" cy="304.1" r="4.0" fill="#E66C37"/>
<circle cx="321.0" cy="317.8" r="4.0" fill="#E66C37"/>
<circle cx="321.0" cy="325.9" r="4.0" fill="#E66C37"/>
<circle cx="321.0" cy="338.8" r="4.0" fill="#E66C37"/>
<circle cx="311.0" cy="350.7" r="4.0" fill="#E66C37"/>
<circle cx="322.0" cy="350.7" r="4.0" fill="#E66C37"/>
<circle cx="342.0" cy="350.7" r="4.0" fill="#E66C37"/>
<circle cx="321.0" cy="358.2" r="4.0" fill="#E66C37"/>
<circle cx="320.0" cy="363.0" r="4.0" fill="#E66C37"/>
<circle cx="320.0" cy="385.0" r="4.0" fill="#E66C37"/>
<circle cx="320.0" cy="390.5" r="4.0" fill="#E66C37"/>
<circle cx="330.0" cy="385.6" r="4.0" fill="#E66C37"/>
<circle cx="330.0" cy="397.0" r="4.0" fill="#E66C37"/>
<circle cx="330.0" cy="405.0" r="4.0" fill="#E66C37"/>
<circle cx="330.0" cy="408.3" r="4.0" fill="#E66C37"/>
<circle cx="330.0" cy="420.6" r="4.0" fill="#E66C37"/>
<circle cx="330.0" cy="426.0" r="4.0" fill="#E66C37"/>
<circle cx="342.0" cy="420.6" r="4.0" fill="#E66C37"/>
<circle cx="330.0" cy="439.0" r="4.0" fill="#E66C37"/>
<circle cx="330.0" cy="455.0" r="4.0" fill="#E66C37"/>
<circle cx="342.0" cy="455.0" r="4.0" fill="#E66C37"/>
<circle cx="390.0" cy="245.5" r="4.0" fill="#E66C37"/>
<circle cx="390.0" cy="281.1" r="4.0" fill="#E66C37"/>
<circle cx="391.0" cy="298.0" r="4.0" fill="#E66C37"/>
<circle cx="391.0" cy="301.7" r="4.0" fill="#E66C37"/>
<circle cx="391.0" cy="306.5" r="4.0" fill="#E66C37"/>
<circle cx="391.0" cy="310.2" r="4.0" fill="#E66C37"/>
<circle cx="391.0" cy="303.2" r="4.0" fill="#E66C37"/>
<circle cx="391.0" cy="324.2" r="4.0" fill="#E66C37"/>
<circle cx="391.0" cy="330.7" r="4.0" fill="#E66C37"/>
<circle cx="391.0" cy="358.2" r="4.0" fill="#E66C37"/>
<circle cx="391.0" cy="362.0" r="4.0" fill="#E66C37"/>
<circle cx="391.0" cy="385.6" r="4.0" fill="#E66C37"/>
<circle cx="396.0" cy="385.6" r="4.0" fill="#E66C37"/>
<circle cx="390.0" cy="403.4" r="4.0" fill="#E66C37"/>
<circle cx="390.0" cy="408.3" r="4.0" fill="#E66C37"/>
<circle cx="391.0" cy="414.7" r="4.0" fill="#E66C37"/>
<circle cx="395.0" cy="421.2" r="4.0" fill="#E66C37"/>
<circle cx="391.0" cy="427.7" r="4.0" fill="#E66C37"/>
<circle cx="396.0" cy="427.7" r="4.0" fill="#E66C37"/>
<circle cx="396.0" cy="435.1" r="4.0" fill="#E66C37"/>
<circle cx="408.5" cy="340.4" r="4.0" fill="#E66C37"/>
<circle cx="408.5" cy="346.9" r="4.0" fill="#E66C37"/>
<circle cx="408.5" cy="350.1" r="4.0" fill="#E66C37"/>
<circle cx="408.5" cy="361.4" r="4.0" fill="#E66C37"/>
<circle cx="423.4" cy="367.9" r="4.0" fill="#E66C37"/>
<circle cx="423.4" cy="385.6" r="4.0" fill="#E66C37"/>
<circle cx="488.9" cy="280.1" r="4.0" fill="#E66C37"/>
<circle cx="474.4" cy="332.7" r="4.0" fill="#E66C37"/>
<circle cx="441.1" cy="350.4" r="4.0" fill="#E66C37"/>
<circle cx="446.2" cy="350.4" r="4.0" fill="#E66C37"/>
<circle cx="491.1" cy="350.4" r="4.0" fill="#E66C37"/>
<circle cx="493.3" cy="350.4" r="4.0" fill="#E66C37"/>
<circle cx="424.4" cy="368.2" r="4.0" fill="#E66C37"/>
<circle cx="470.0" cy="368.2" r="4.0" fill="#E66C37"/>
<circle cx="485.6" cy="368.2" r="4.0" fill="#E66C37"/>
<circle cx="486.7" cy="376.2" r="4.0" fill="#E66C37"/>
<circle cx="486.7" cy="381.1" r="4.0" fill="#E66C37"/>
<circle cx="425.6" cy="385.6" r="4.0" fill="#E66C37"/>
<circle cx="441.1" cy="385.6" r="4.0" fill="#E66C37"/>
<circle cx="444.4" cy="385.6" r="4.0" fill="#E66C37"/>
<circle cx="448.9" cy="385.6" r="4.0" fill="#E66C37"/>
<circle cx="455.6" cy="385.6" r="4.0" fill="#E66C37"/>
<circle cx="461.1" cy="385.6" r="4.0" fill="#E66C37"/>
<circle cx="472.2" cy="385.6" r="4.0" fill="#E66C37"/>
<circle cx="485.6" cy="385.6" r="4.0" fill="#E66C37"/>
<circle cx="495.6" cy="385.6" r="4.0" fill="#E66C37"/>
<circle cx="442.2" cy="391.1" r="4.0" fill="#E66C37"/>
<circle cx="441.1" cy="394.0" r="4.0" fill="#E66C37"/>
<circle cx="470.0" cy="397.8" r="4.0" fill="#E66C37"/>
<circle cx="493.3" cy="397.1" r="4.0" fill="#E66C37"/>
<circle cx="446.2" cy="402.9" r="4.0" fill="#E66C37"/>
<circle cx="471.1" cy="402.9" r="4.0" fill="#E66C37"/>
<circle cx="477.3" cy="405.6" r="4.0" fill="#E66C37"/>
<circle cx="440.0" cy="408.9" r="4.0" fill="#E66C37"/>
<circle cx="468.9" cy="412.2" r="4.0" fill="#E66C37"/>
<circle cx="473.3" cy="412.2" r="4.0" fill="#E66C37"/>
<circle cx="478.9" cy="407.8" r="4.0" fill="#E66C37"/>
<circle cx="441.0" cy="420.4" r="4.0" fill="#E66C37"/>
<circle cx="448.3" cy="420.4" r="4.0" fill="#E66C37"/>
<circle cx="459.6" cy="420.4" r="4.0" fill="#E66C37"/>
<circle cx="471.7" cy="420.4" r="4.0" fill="#E66C37"/>
<circle cx="475.7" cy="420.4" r="4.0" fill="#E66C37"/>
<circle cx="485.4" cy="420.4" r="4.0" fill="#E66C37"/>
<circle cx="488.7" cy="420.4" r="4.0" fill="#E66C37"/>
<circle cx="471.7" cy="425.2" r="4.0" fill="#E66C37"/>
<circle cx="477.4" cy="425.2" r="4.0" fill="#E66C37"/>
<circle cx="440.2" cy="427.7" r="4.0" fill="#E66C37"/>
<circle cx="439.4" cy="434.1" r="4.0" fill="#E66C37"/>
<circle cx="487.9" cy="431.7" r="4.0" fill="#E66C37"/>
<circle cx="459.6" cy="435.7" r="4.0" fill="#E66C37"/>
<circle cx="468.5" cy="436.5" r="4.0" fill="#E66C37"/>
<circle cx="473.3" cy="433.3" r="4.0" fill="#E66C37"/>
<circle cx="460.4" cy="440.6" r="4.0" fill="#E66C37"/>
<circle cx="474.1" cy="441.4" r="4.0" fill="#E66C37"/>
<circle cx="486.2" cy="439.0" r="4.0" fill="#E66C37"/>
<circle cx="486.2" cy="443.8" r="4.0" fill="#E66C37"/>
<circle cx="462.0" cy="448.7" r="4.0" fill="#E66C37"/>
<circle cx="430.5" cy="455.5" r="4.0" fill="#E66C37"/>
<circle cx="446.7" cy="455.5" r="4.0" fill="#E66C37"/>
<circle cx="452.3" cy="455.5" r="4.0" fill="#E66C37"/>
<circle cx="460.4" cy="455.5" r="4.0" fill="#E66C37"/>
<circle cx="466.8" cy="455.5" r="4.0" fill="#E66C37"/>
<circle cx="471.7" cy="455.5" r="4.0" fill="#E66C37"/>
<circle cx="481.4" cy="455.5" r="4.0" fill="#E66C37"/>
<circle cx="487.9" cy="455.5" r="4.0" fill="#E66C37"/>
<circle cx="494.3" cy="455.5" r="4.0" fill="#E66C37"/>
<circle cx="501.7" cy="279.9" r="4.0" fill="#E66C37"/>
<circle cx="502.8" cy="315.0" r="4.0" fill="#E66C37"/>
<circle cx="496.1" cy="350.4" r="4.0" fill="#E66C37"/>
<circle cx="516.1" cy="350.4" r="4.0" fill="#E66C37"/>
<circle cx="506.1" cy="356.7" r="4.0" fill="#E66C37"/>
<circle cx="569.4" cy="367.8" r="4.0" fill="#E66C37"/>
<circle cx="496.1" cy="385.6" r="4.0" fill="#E66C37"/>
<circle cx="519.4" cy="385.6" r="4.0" fill="#E66C37"/>
<circle cx="525.0" cy="385.6" r="4.0" fill="#E66C37"/>
<circle cx="536.1" cy="385.6" r="4.0" fill="#E66C37"/>
<circle cx="540.6" cy="385.6" r="4.0" fill="#E66C37"/>
<circle cx="546.1" cy="385.6" r="4.0" fill="#E66C37"/>
<circle cx="551.7" cy="385.6" r="4.0" fill="#E66C37"/>
<circle cx="566.1" cy="385.6" r="4.0" fill="#E66C37"/>
<circle cx="571.7" cy="385.6" r="4.0" fill="#E66C37"/>
<circle cx="495.7" cy="397.1" r="4.0" fill="#E66C37"/>
<circle cx="514.1" cy="397.1" r="4.0" fill="#E66C37"/>
<circle cx="504.9" cy="402.7" r="4.0" fill="#E66C37"/>
<circle cx="533.9" cy="402.7" r="4.0" fill="#E66C37"/>
<circle cx="533.9" cy="407.0" r="4.0" fill="#E66C37"/>
<circle cx="548.7" cy="403.4" r="4.0" fill="#E66C37"/>
<circle cx="568.5" cy="400.6" r="4.0" fill="#E66C37"/>
<circle cx="572.7" cy="404.1" r="4.0" fill="#E66C37"/>
<circle cx="505.6" cy="420.4" r="4.0" fill="#E66C37"/>
<circle cx="510.5" cy="420.4" r="4.0" fill="#E66C37"/>
<circle cx="515.5" cy="420.4" r="4.0" fill="#E66C37"/>
<circle cx="520.4" cy="420.4" r="4.0" fill="#E66C37"/>
<circle cx="525.4" cy="420.4" r="4.0" fill="#E66C37"/>
<circle cx="530.3" cy="420.4" r="4.0" fill="#E66C37"/>
<circle cx="534.6" cy="420.4" r="4.0" fill="#E66C37"/>
<circle cx="543.1" cy="420.4" r="4.0" fill="#E66C37"/>
<circle cx="546.6" cy="420.4" r="4.0" fill="#E66C37"/>
<circle cx="572.0" cy="420.4" r="4.0" fill="#E66C37"/>
<circle cx="504.9" cy="426.5" r="4.0" fill="#E66C37"/>
<circle cx="525.4" cy="427.5" r="4.0" fill="#E66C37"/>
<circle cx="534.6" cy="424.6" r="4.0" fill="#E66C37"/>
<circle cx="543.1" cy="427.5" r="4.0" fill="#E66C37"/>
<circle cx="542.4" cy="432.4" r="4.0" fill="#E66C37"/>
<circle cx="542.4" cy="434.5" r="4.0" fill="#E66C37"/>
<circle cx="512.0" cy="432.4" r="4.0" fill="#E66C37"/>
<circle cx="526.1" cy="438.1" r="4.0" fill="#E66C37"/>
<circle cx="565.7" cy="435.2" r="4.0" fill="#E66C37"/>
<circle cx="572.0" cy="429.6" r="4.0" fill="#E66C37"/>
<circle cx="572.0" cy="438.1" r="4.0" fill="#E66C37"/>
<circle cx="572.0" cy="444.4" r="4.0" fill="#E66C37"/>
<circle cx="543.1" cy="446.3" r="4.0" fill="#E66C37"/>
<circle cx="499.2" cy="455.5" r="4.0" fill="#E66C37"/>
<circle cx="505.6" cy="455.5" r="4.0" fill="#E66C37"/>
<circle cx="514.1" cy="455.5" r="4.0" fill="#E66C37"/>
<circle cx="518.3" cy="455.5" r="4.0" fill="#E66C37"/>
<circle cx="524.0" cy="455.5" r="4.0" fill="#E66C37"/>
<circle cx="541.6" cy="455.5" r="4.0" fill="#E66C37"/>
<circle cx="550.1" cy="455.5" r="4.0" fill="#E66C37"/>
<circle cx="562.1" cy="455.5" r="4.0" fill="#E66C37"/>
<circle cx="569.9" cy="455.5" r="4.0" fill="#E66C37"/>
<circle cx="592.0" cy="315.6" r="4.0" fill="#E66C37"/>
<circle cx="592.2" cy="350.7" r="4.0" fill="#E66C37"/>
<circle cx="612.9" cy="350.7" r="4.0" fill="#E66C37"/>
<circle cx="572.0" cy="366.6" r="4.0" fill="#E66C37"/>
<circle cx="572.5" cy="385.5" r="4.0" fill="#E66C37"/>
<circle cx="586.4" cy="385.5" r="4.0" fill="#E66C37"/>
<circle cx="592.7" cy="385.5" r="4.0" fill="#E66C37"/>
<circle cx="599.0" cy="385.5" r="4.0" fill="#E66C37"/>
<circle cx="612.9" cy="385.5" r="4.0" fill="#E66C37"/>
<circle cx="626.8" cy="385.5" r="4.0" fill="#E66C37"/>
<circle cx="572.5" cy="401.9" r="4.0" fill="#E66C37"/>
<circle cx="572.5" cy="410.8" r="4.0" fill="#E66C37"/>
<circle cx="582.6" cy="410.3" r="4.0" fill="#E66C37"/>
<circle cx="612.9" cy="411.3" r="4.0" fill="#E66C37"/>
<circle cx="629.3" cy="414.5" r="4.0" fill="#E66C37"/>
<circle cx="572.5" cy="420.9" r="4.0" fill="#E66C37"/>
<circle cx="581.0" cy="420.9" r="4.0" fill="#E66C37"/>
<circle cx="592.7" cy="420.9" r="4.0" fill="#E66C37"/>
<circle cx="600.0" cy="420.9" r="4.0" fill="#E66C37"/>
<circle cx="612.9" cy="420.9" r="4.0" fill="#E66C37"/>
<circle cx="626.0" cy="420.9" r="4.0" fill="#E66C37"/>
<circle cx="635.0" cy="420.9" r="4.0" fill="#E66C37"/>
<circle cx="645.0" cy="420.9" r="4.0" fill="#E66C37"/>
<circle cx="575.0" cy="429.7" r="4.0" fill="#E66C37"/>
<circle cx="581.4" cy="431.0" r="4.0" fill="#E66C37"/>
<circle cx="581.4" cy="436.0" r="4.0" fill="#E66C37"/>
<circle cx="629.3" cy="428.4" r="4.0" fill="#E66C37"/>
<circle cx="635.7" cy="429.7" r="4.0" fill="#E66C37"/>
<circle cx="628.0" cy="436.0" r="4.0" fill="#E66C37"/>
<circle cx="572.5" cy="438.5" r="4.0" fill="#E66C37"/>
<circle cx="572.5" cy="444.8" r="4.0" fill="#E66C37"/>
<circle cx="583.9" cy="441.0" r="4.0" fill="#E66C37"/>
<circle cx="611.7" cy="441.0" r="4.0" fill="#E66C37"/>
<circle cx="635.7" cy="443.6" r="4.0" fill="#E66C37"/>
<circle cx="644.5" cy="438.5" r="4.0" fill="#E66C37"/>
<circle cx="644.5" cy="444.8" r="4.0" fill="#E66C37"/>
<circle cx="572.5" cy="455.5" r="4.0" fill="#E66C37"/>
<circle cx="580.0" cy="455.5" r="4.0" fill="#E66C37"/>
<circle cx="590.0" cy="455.5" r="4.0" fill="#E66C37"/>
<circle cx="600.3" cy="455.5" r="4.0" fill="#E66C37"/>
<circle cx="611.7" cy="455.5" r="4.0" fill="#E66C37"/>
<circle cx="628.0" cy="455.5" r="4.0" fill="#E66C37"/>
<circle cx="636.0" cy="455.5" r="4.0" fill="#E66C37"/>
<circle cx="645.0" cy="455.5" r="4.0" fill="#E66C37"/>
<circle cx="676.0" cy="280.5" r="4.0" fill="#E66C37"/>
<circle cx="659.0" cy="368.3" r="4.0" fill="#E66C37"/>
<circle cx="659.0" cy="385.3" r="4.0" fill="#E66C37"/>
<circle cx="659.0" cy="399.4" r="4.0" fill="#E66C37"/>
<circle cx="659.0" cy="406.2" r="4.0" fill="#E66C37"/>
<circle cx="673.0" cy="350.5" r="4.0" fill="#E66C37"/>
<circle cx="673.0" cy="368.3" r="4.0" fill="#E66C37"/>
<circle cx="670.0" cy="385.3" r="4.0" fill="#E66C37"/>
<circle cx="673.0" cy="404.2" r="4.0" fill="#E66C37"/>
<circle cx="716.0" cy="350.5" r="4.0" fill="#E66C37"/>
<circle cx="714.0" cy="385.3" r="4.0" fill="#E66C37"/>
<circle cx="658.1" cy="386.1" r="4.0" fill="#E66C37"/>
<circle cx="671.0" cy="386.1" r="4.0" fill="#E66C37"/>
<circle cx="658.1" cy="399.7" r="4.0" fill="#E66C37"/>
<circle cx="658.0" cy="406.7" r="4.0" fill="#E66C37"/>
<circle cx="673.1" cy="405.0" r="4.0" fill="#E66C37"/>
<circle cx="673.0" cy="411.5" r="4.0" fill="#E66C37"/>
<circle cx="672.0" cy="413.9" r="4.0" fill="#E66C37"/>
<circle cx="644.0" cy="420.4" r="4.0" fill="#E66C37"/>
<circle cx="658.0" cy="420.4" r="4.0" fill="#E66C37"/>
<circle cx="714.0" cy="420.4" r="4.0" fill="#E66C37"/>
<circle cx="658.0" cy="426.8" r="4.0" fill="#E66C37"/>
<circle cx="659.0" cy="431.7" r="4.0" fill="#E66C37"/>
<circle cx="672.0" cy="428.5" r="4.0" fill="#E66C37"/>
<circle cx="672.0" cy="434.9" r="4.0" fill="#E66C37"/>
<circle cx="672.0" cy="439.8" r="4.0" fill="#E66C37"/>
<circle cx="644.0" cy="437.4" r="4.0" fill="#E66C37"/>
<circle cx="644.0" cy="443.8" r="4.0" fill="#E66C37"/>
<circle cx="658.0" cy="444.3" r="4.0" fill="#E66C37"/>
<circle cx="714.0" cy="437.8" r="4.0" fill="#E66C37"/>
<circle cx="644.0" cy="455.5" r="4.0" fill="#E66C37"/>
<circle cx="658.0" cy="455.5" r="4.0" fill="#E66C37"/>
<circle cx="668.0" cy="455.5" r="4.0" fill="#E66C37"/>
<circle cx="675.0" cy="455.5" r="4.0" fill="#E66C37"/>
<circle cx="714.0" cy="455.5" r="4.0" fill="#E66C37"/>
<circle cx="752.0" cy="385.5" r="4.0" fill="#E66C37"/>
<circle cx="750.0" cy="403.6" r="4.0" fill="#E66C37"/>
<circle cx="748.0" cy="418.2" r="4.0" fill="#E66C37"/>
<circle cx="748.0" cy="421.1" r="4.0" fill="#E66C37"/>
<circle cx="748.0" cy="436.4" r="4.0" fill="#E66C37"/>
<circle cx="748.0" cy="441.8" r="4.0" fill="#E66C37"/>
<circle cx="748.0" cy="447.3" r="4.0" fill="#E66C37"/>
<circle cx="748.0" cy="455.5" r="4.0" fill="#E66C37"/>
<circle cx="764.0" cy="385.5" r="4.0" fill="#E66C37"/>
<circle cx="800.9" cy="409.1" r="4.0" fill="#E66C37"/>
<circle cx="800.9" cy="420.0" r="4.0" fill="#E66C37"/>
<circle cx="800.9" cy="443.6" r="4.0" fill="#E66C37"/>
<circle cx="800.9" cy="455.5" r="4.0" fill="#E66C37"/>
<circle cx="818.0" cy="349.8" r="4.0" fill="#E66C37"/>
<circle cx="822.0" cy="349.8" r="4.0" fill="#E66C37"/>
<circle cx="818.0" cy="396.4" r="4.0" fill="#E66C37"/>
<circle cx="818.0" cy="401.8" r="4.0" fill="#E66C37"/>
<circle cx="818.0" cy="418.2" r="4.0" fill="#E66C37"/>
<circle cx="818.0" cy="422.5" r="4.0" fill="#E66C37"/>
<circle cx="818.0" cy="430.9" r="4.0" fill="#E66C37"/>
<circle cx="818.0" cy="455.5" r="4.0" fill="#E66C37"/>
<circle cx="835.0" cy="315.3" r="4.0" fill="#E66C37"/>
<circle cx="835.5" cy="361.8" r="4.0" fill="#E66C37"/>
<circle cx="835.5" cy="385.5" r="4.0" fill="#E66C37"/>
<circle cx="835.5" cy="400.0" r="4.0" fill="#E66C37"/>
<circle cx="835.5" cy="432.7" r="4.0" fill="#E66C37"/>
<circle cx="835.5" cy="455.5" r="4.0" fill="#E66C37"/>
<circle cx="141.0" cy="420.5" r="4.0" fill="#E66C37"/>
</g>
<path d="M115.5,264.1 C117.0,263.2 121.6,260.3 124.6,258.4 C127.6,256.5 130.6,254.6 133.7,252.8 C136.8,251.0 139.8,249.2 142.9,247.4 C146.0,245.6 149.0,243.8 152.0,242.0 C155.0,240.2 158.1,238.4 161.1,236.7 C164.1,234.9 167.2,233.2 170.2,231.5 C173.2,229.8 176.2,228.2 179.3,226.5 C182.4,224.8 185.4,223.1 188.5,221.4 C191.6,219.7 194.6,218.1 197.6,216.5 C200.6,214.9 203.7,213.2 206.7,211.6 C209.7,210.0 212.8,208.5 215.8,206.9 C218.8,205.3 221.9,203.7 224.9,202.1 C227.9,200.5 231.1,199.0 234.1,197.5 C237.1,196.0 240.2,194.5 243.2,193.0 C246.2,191.5 249.3,190.0 252.3,188.6 C255.3,187.2 258.4,185.8 261.4,184.4 C264.4,183.0 267.4,181.6 270.5,180.3 C273.6,179.0 276.6,177.7 279.7,176.5 C282.8,175.3 285.8,174.1 288.8,173.2 C291.8,172.2 294.9,171.4 297.9,170.8 C300.9,170.2 304.0,169.8 307.0,169.7 C310.0,169.6 313.1,169.7 316.1,170.0 C319.2,170.3 322.2,170.9 325.3,171.7 C328.4,172.5 331.4,173.4 334.4,174.7 C337.4,175.9 340.5,177.5 343.5,179.2 C346.5,180.9 349.6,182.8 352.6,185.0 C355.6,187.2 358.6,189.7 361.7,192.3 C364.8,194.9 367.8,197.9 370.9,200.8 C373.9,203.7 377.0,206.8 380.0,209.7 C383.0,212.6 386.1,215.8 389.1,218.5 C392.1,221.2 395.2,223.8 398.2,226.2 C401.2,228.6 404.2,230.8 407.3,232.9 C410.4,235.0 413.4,236.8 416.5,238.6 C419.6,240.4 422.6,242.0 425.6,243.5 C428.6,245.0 431.7,246.4 434.7,247.7 C437.7,249.0 440.8,250.2 443.8,251.3 C446.8,252.4 449.8,253.4 452.9,254.4 C455.9,255.4 459.1,256.3 462.1,257.2 C465.2,258.1 468.2,258.8 471.2,259.6 C474.2,260.4 477.3,261.1 480.3,261.8 C483.3,262.5 486.3,263.0 489.4,263.6 C492.4,264.2 495.6,264.8 498.6,265.3 C501.7,265.8 504.7,266.2 507.7,266.7 C510.7,267.1 513.8,267.6 516.8,268.0 C519.8,268.4 522.9,268.7 525.9,269.1 C528.9,269.5 532.0,269.9 535.0,270.2 C538.0,270.5 541.2,270.8 544.2,271.1 C547.2,271.4 550.3,271.6 553.3,271.9 C556.3,272.1 559.4,272.4 562.4,272.6 C565.4,272.8 568.5,273.0 571.5,273.2 C574.5,273.4 577.6,273.6 580.6,273.8 C583.6,274.0 586.8,274.1 589.8,274.2 C592.8,274.3 595.9,274.5 598.9,274.6 C601.9,274.7 605.0,274.8 608.0,274.9 C611.0,275.0 614.1,275.1 617.1,275.1 C620.1,275.2 623.2,275.2 626.2,275.2 C629.2,275.2 632.4,275.3 635.4,275.3 C638.4,275.3 641.5,275.3 644.5,275.3 C647.5,275.3 650.6,275.2 653.6,275.2 C656.6,275.1 659.7,275.1 662.7,275.0 C665.7,274.9 668.8,274.9 671.8,274.8 C674.8,274.7 678.0,274.5 681.0,274.4 C684.0,274.3 687.1,274.2 690.1,274.1 C693.1,274.0 696.2,273.8 699.2,273.6 C702.2,273.4 705.3,273.3 708.3,273.1 C711.3,272.9 714.3,272.8 717.4,272.6 C720.5,272.4 723.5,272.2 726.6,272.0 C729.7,271.8 732.7,271.5 735.7,271.3 C738.7,271.1 741.8,270.9 744.8,270.6 C747.8,270.4 750.9,270.1 753.9,269.8 C756.9,269.5 760.0,269.3 763.0,269.0 C766.0,268.7 769.2,268.4 772.2,268.1 C775.2,267.8 778.3,267.5 781.3,267.2 C784.3,266.9 787.4,266.5 790.4,266.2 C793.4,265.9 796.5,265.5 799.5,265.2 C802.5,264.9 805.6,264.5 808.6,264.2 C811.6,263.9 814.8,263.5 817.8,263.1 C820.8,262.7 823.9,262.4 826.9,262.0 C829.9,261.6 834.5,261.0 836.0,260.8" fill="none" stroke="#3A9EFA" stroke-width="4.3" stroke-linecap="round"/>
<path d="M131.6,322.5 C133.1,321.4 137.5,318.0 140.5,315.7 C143.5,313.4 146.4,311.2 149.4,308.9 C152.4,306.6 155.3,304.3 158.3,302.1 C161.3,299.9 164.3,297.7 167.3,295.5 C170.3,293.3 173.2,291.0 176.2,288.8 C179.2,286.6 182.1,284.5 185.1,282.3 C188.1,280.1 191.0,278.0 194.0,275.9 C197.0,273.8 199.9,271.8 202.9,269.7 C205.9,267.6 208.8,265.5 211.8,263.5 C214.8,261.5 217.8,259.4 220.8,257.5 C223.8,255.6 226.7,253.7 229.7,251.8 C232.7,249.9 235.6,248.1 238.6,246.3 C241.6,244.5 244.5,242.8 247.5,241.2 C250.5,239.6 253.4,238.1 256.4,236.7 C259.4,235.3 262.3,234.0 265.3,232.9 C268.3,231.8 271.3,230.8 274.3,229.9 C277.3,229.1 280.2,228.3 283.2,227.8 C286.2,227.3 289.1,226.9 292.1,226.7 C295.1,226.5 298.0,226.6 301.0,226.8 C304.0,227.0 306.9,227.4 309.9,228.1 C312.9,228.8 315.8,229.8 318.8,231.0 C321.8,232.2 324.8,233.7 327.8,235.3 C330.8,236.9 333.7,238.9 336.7,240.8 C339.7,242.8 342.6,244.9 345.6,247.0 C348.6,249.1 351.5,251.4 354.5,253.6 C357.5,255.8 360.4,258.0 363.4,260.1 C366.4,262.2 369.3,264.3 372.3,266.4 C375.3,268.5 378.3,270.7 381.3,272.8 C384.3,274.9 387.2,277.0 390.2,278.8 C393.2,280.6 396.1,282.3 399.1,283.9 C402.1,285.5 405.0,286.9 408.0,288.3 C411.0,289.7 413.9,291.1 416.9,292.4 C419.9,293.7 422.8,294.8 425.8,296.0 C428.8,297.2 431.8,298.3 434.8,299.4 C437.8,300.5 440.7,301.4 443.7,302.4 C446.7,303.4 449.6,304.3 452.6,305.2 C455.6,306.1 458.5,307.0 461.5,307.8 C464.5,308.6 467.4,309.4 470.4,310.1 C473.4,310.9 476.3,311.6 479.3,312.3 C482.3,313.0 485.3,313.7 488.3,314.3 C491.3,314.9 494.2,315.5 497.2,316.1 C500.2,316.7 503.1,317.3 506.1,317.8 C509.1,318.3 512.0,318.8 515.0,319.3 C518.0,319.8 520.9,320.3 523.9,320.8 C526.9,321.3 529.8,321.7 532.8,322.1 C535.8,322.5 538.8,323.0 541.8,323.4 C544.8,323.8 547.7,324.2 550.7,324.6 C553.7,325.0 556.6,325.4 559.6,325.7 C562.6,326.0 565.5,326.4 568.5,326.7 C571.5,327.0 574.4,327.3 577.4,327.6 C580.4,327.9 583.3,328.1 586.3,328.4 C589.3,328.7 592.3,329.0 595.3,329.2 C598.3,329.4 601.2,329.6 604.2,329.8 C607.2,330.0 610.1,330.2 613.1,330.4 C616.1,330.6 619.0,330.7 622.0,330.8 C625.0,330.9 627.9,331.1 630.9,331.2 C633.9,331.3 636.8,331.4 639.8,331.5 C642.8,331.6 645.8,331.6 648.8,331.7 C651.8,331.8 654.7,331.8 657.7,331.8 C660.7,331.8 663.6,331.8 666.6,331.8 C669.6,331.8 672.5,331.7 675.5,331.7 C678.5,331.7 681.4,331.7 684.4,331.6 C687.4,331.6 690.3,331.5 693.3,331.4 C696.3,331.3 699.3,331.2 702.3,331.1 C705.3,331.0 708.2,330.9 711.2,330.8 C714.2,330.7 717.1,330.5 720.1,330.4 C723.1,330.3 726.0,330.1 729.0,330.0 C732.0,329.9 734.9,329.7 737.9,329.5 C740.9,329.3 743.8,329.2 746.8,329.0 C749.8,328.8 752.8,328.6 755.8,328.4 C758.8,328.2 761.7,328.0 764.7,327.8 C767.7,327.6 770.6,327.3 773.6,327.1 C776.6,326.9 779.5,326.7 782.5,326.5 C785.5,326.3 788.4,326.1 791.4,325.8 C794.4,325.6 797.3,325.2 800.3,325.0 C803.3,324.8 806.3,324.5 809.3,324.3 C812.3,324.1 815.2,323.9 818.2,323.6 C821.2,323.4 824.1,323.1 827.1,322.8 C830.1,322.5 834.5,322.1 836.0,322.0" fill="none" stroke="#1622A6" stroke-width="4.3" stroke-linecap="round"/>
<path d="M128.9,406.6 C130.4,405.2 134.9,401.1 137.9,398.5 C140.9,395.9 144.0,393.5 147.0,391.1 C150.0,388.7 153.0,386.4 156.0,384.2 C159.0,382.0 162.1,379.8 165.1,377.7 C168.1,375.6 171.1,373.6 174.1,371.6 C177.1,369.6 180.1,367.6 183.1,365.6 C186.1,363.6 189.2,361.7 192.2,359.8 C195.2,357.9 198.2,355.9 201.2,354.0 C204.2,352.1 207.3,350.2 210.3,348.3 C213.3,346.4 216.3,344.7 219.3,342.9 C222.3,341.1 225.3,339.4 228.3,337.7 C231.3,336.0 234.4,334.4 237.4,332.9 C240.4,331.4 243.4,329.9 246.4,328.6 C249.4,327.3 252.4,326.0 255.4,324.9 C258.4,323.8 261.5,322.7 264.5,321.8 C267.5,320.9 270.5,320.0 273.5,319.4 C276.5,318.8 279.6,318.3 282.6,317.9 C285.6,317.5 288.6,317.3 291.6,317.2 C294.6,317.1 297.6,317.2 300.6,317.5 C303.6,317.8 306.7,318.2 309.7,318.8 C312.7,319.4 315.7,320.2 318.7,321.2 C321.7,322.2 324.8,323.5 327.8,324.8 C330.8,326.1 333.8,327.6 336.8,329.2 C339.8,330.8 342.8,332.5 345.8,334.3 C348.8,336.1 351.9,337.9 354.9,339.8 C357.9,341.7 360.9,343.7 363.9,345.6 C366.9,347.5 370.0,349.5 373.0,351.4 C376.0,353.3 379.0,355.2 382.0,357.1 C385.0,359.0 388.0,360.8 391.0,362.5 C394.0,364.2 397.1,366.0 400.1,367.6 C403.1,369.2 406.1,370.8 409.1,372.3 C412.1,373.8 415.2,375.3 418.2,376.7 C421.2,378.1 424.2,379.6 427.2,380.9 C430.2,382.2 433.2,383.5 436.2,384.7 C439.2,385.9 442.3,387.1 445.3,388.3 C448.3,389.5 451.3,390.6 454.3,391.7 C457.3,392.8 460.4,393.8 463.4,394.8 C466.4,395.8 469.4,396.9 472.4,397.8 C475.4,398.8 478.4,399.6 481.4,400.5 C484.4,401.4 487.5,402.3 490.5,403.1 C493.5,403.9 496.5,404.6 499.5,405.4 C502.5,406.1 505.5,406.9 508.5,407.6 C511.5,408.3 514.6,409.0 517.6,409.6 C520.6,410.2 523.6,410.8 526.6,411.4 C529.6,412.0 532.7,412.6 535.7,413.1 C538.7,413.6 541.7,414.1 544.7,414.6 C547.7,415.1 550.7,415.5 553.7,415.9 C556.7,416.3 559.8,416.7 562.8,417.1 C565.8,417.5 568.8,417.9 571.8,418.2 C574.8,418.5 577.9,418.8 580.9,419.1 C583.9,419.4 586.9,419.7 589.9,419.9 C592.9,420.1 595.9,420.3 598.9,420.5 C601.9,420.7 605.0,420.9 608.0,421.0 C611.0,421.1 614.0,421.3 617.0,421.4 C620.0,421.5 623.1,421.6 626.1,421.7 C629.1,421.8 632.1,421.8 635.1,421.8 C638.1,421.8 641.1,421.9 644.1,421.9 C647.1,421.9 650.2,421.9 653.2,421.9 C656.2,421.9 659.2,421.8 662.2,421.7 C665.2,421.6 668.3,421.6 671.3,421.5 C674.3,421.4 677.3,421.3 680.3,421.2 C683.3,421.1 686.3,420.9 689.3,420.8 C692.3,420.7 695.4,420.5 698.4,420.4 C701.4,420.2 704.4,420.1 707.4,419.9 C710.4,419.7 713.5,419.5 716.5,419.3 C719.5,419.1 722.5,418.8 725.5,418.6 C728.5,418.4 731.5,418.1 734.5,417.9 C737.5,417.7 740.6,417.4 743.6,417.2 C746.6,416.9 749.6,416.7 752.6,416.4 C755.6,416.1 758.6,415.9 761.6,415.6 C764.6,415.3 767.7,415.0 770.7,414.7 C773.7,414.4 776.7,414.1 779.7,413.8 C782.7,413.5 785.8,413.2 788.8,412.9 C791.8,412.6 794.8,412.3 797.8,412.0 C800.8,411.7 803.8,411.4 806.8,411.1 C809.8,410.8 812.9,410.5 815.9,410.2 C818.9,409.9 821.9,409.5 824.9,409.2 C827.9,408.9 831.0,408.6 834.0,408.3 C837.0,408.0 841.5,407.5 843.0,407.4" fill="none" stroke="#E66C37" stroke-width="4.3" stroke-linecap="round"/>
</svg>
<div class="ld" style="left:4.2px;background:#118DFF"></div><div class="leg" style="left:15.5px">Promedio de ISO4</div>
<div class="ld" style="left:118.8px;background:#12239E"></div><div class="leg" style="left:129.5px">Promedio de ISO6</div>
<div class="ld" style="left:232.8px;background:#E66C37"></div><div class="leg" style="left:243.5px">Promedio de ISO14</div>
<div class="tick" style="left:110px">-2000</div>
<div class="tick" style="left:284px">-1000</div>
<div class="tick" style="left:458px">0</div>
<div class="tick" style="left:632px">1000</div>
<div class="tick" style="left:805px">2000</div>
<div class="xt">Gearbox speed</div>
<div class="yt">Promedio de ISO4, Promedio de ISO6 y Promedio de ISO14</div>
<div class="bot"></div>
</div></body></html>
